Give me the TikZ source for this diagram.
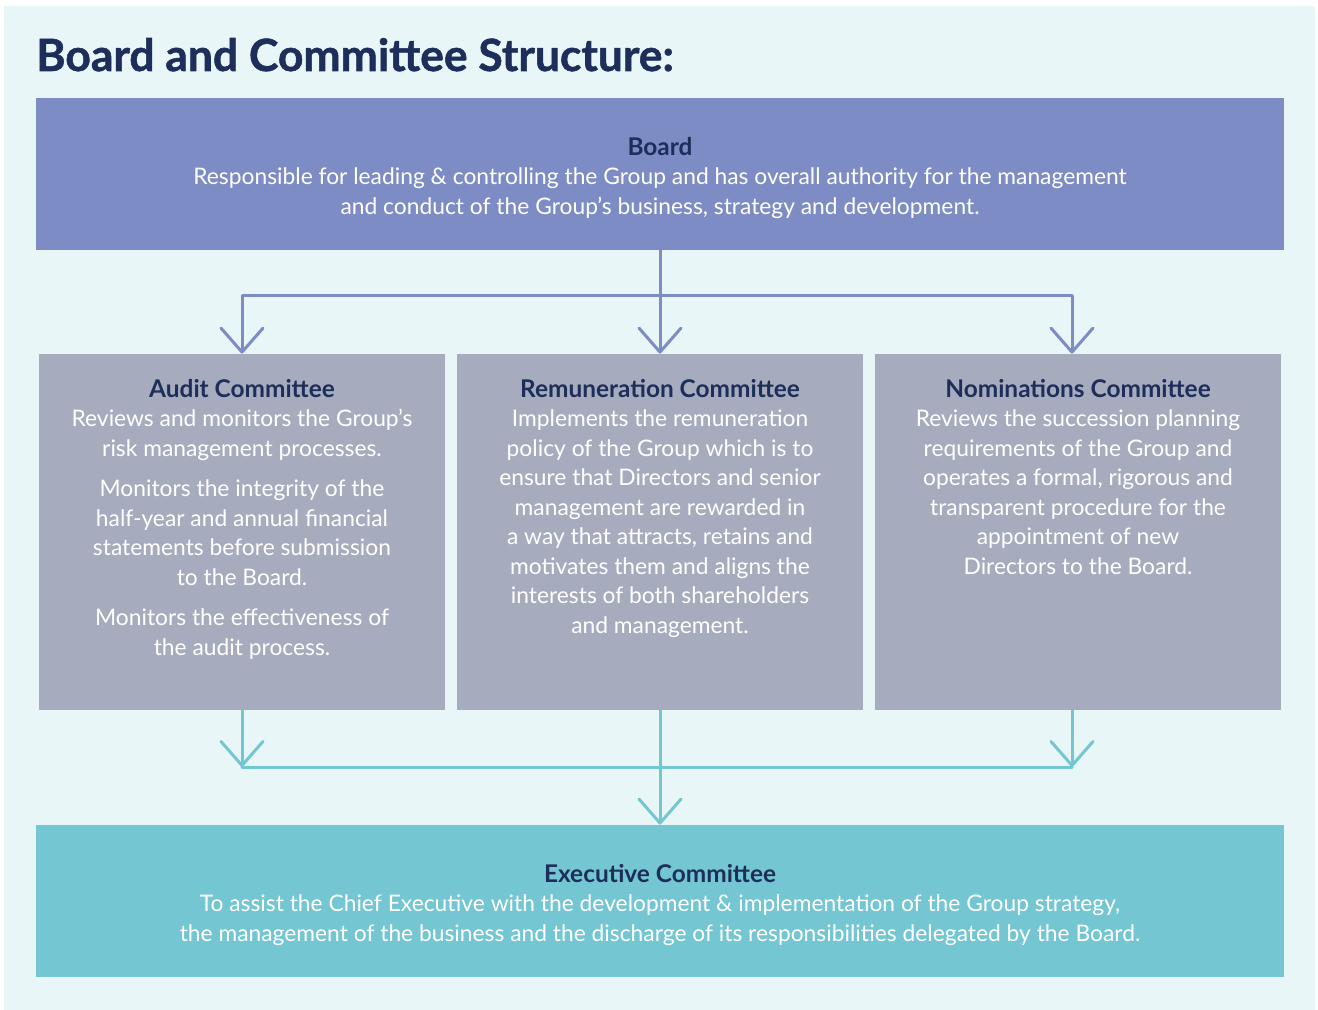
\documentclass[tikz,border=0pt]{standalone}
\usepackage{fontspec}
\setmainfont{Lato}
\newfontfamily\titlefont{Lato}[BoldFeatures={FakeBold=1.2}]
\usetikzlibrary{arrows.meta,positioning}

\definecolor{bgmint}{HTML}{E8F6F7}
\definecolor{boardblue}{HTML}{7D8CC4}
\definecolor{cmgrey}{HTML}{A6ACBE}
\definecolor{exteal}{HTML}{73C6D2}
\definecolor{navy}{HTML}{1E2E5A}

\newcommand{\bodyfont}{\fontsize{11.4}{14.75}\selectfont}
\newcommand{\boxhead}[1]{{\fontsize{12.2}{14.75}\selectfont\bfseries\color{navy}#1}}

\tikzset{
  wide/.style={inner sep=0pt, minimum width=624pt, minimum height=76pt},
  cmbox/.style={inner sep=0pt, fill=cmgrey, minimum width=203pt, minimum height=178pt},
  cmtext/.style={inner sep=0pt, text=white, align=center, font=\bodyfont},
  flow/.style={line width=1.5pt, line cap=round, line join=round},
  barb/.style={flow, -{Straight Barb[length=12pt,width=21pt,round]}}
}

\begin{document}
\begin{tikzpicture}[x=0.5pt,y=-0.5pt]
  \useasboundingbox (0,0) rectangle (1318,1010);
  \fill[bgmint] (4,6) rectangle (1315,1010);

  \node[anchor=base west, inner sep=0pt, text=navy,
        font=\titlefont\fontsize{22.2}{26}\selectfont\bfseries] (title) at (36,71)
        {Board and Committee Structure:};

  % boxes
  \node[wide, fill=boardblue] (board) at (660,174) {};
  \node[cmbox] (audit) at (242,532) {};
  \node[cmbox] (remun) at (660,532) {};
  \node[cmbox] (nomin) at (1078,532) {};
  \node[wide, fill=exteal] (exec) at (660,901) {};

  % box texts
  \node[cmtext] (boardtxt) at ([yshift=-2pt]board.center)
    {\boxhead{Board}\\
     Responsible for leading \& controlling the Group and has overall authority for the management\\
     and conduct of the Group’s business, strategy and development.};

  \node[cmtext] (exectxt) at ([yshift=-2pt]exec.center)
    {\boxhead{Executive Committee}\\
     To assist the Chief Executive with the development \& implementation of the Group strategy,\\
     the management of the business and the discharge of its responsibilities delegated by the Board.};

  \node[cmtext, below=12.5pt of audit.north] (audittxt)
    {\boxhead{Audit Committee}\\
     Reviews and monitors the Group’s\\
     risk management processes.\\[5.5pt]
     Monitors the integrity of the\\
     half-year and annual financial\\
     statements before submission\\
     to the Board.\\[5.5pt]
     Monitors the effectiveness of\\
     the audit process.};

  \node[cmtext, below=12.5pt of remun.north] (remuntxt)
    {\boxhead{Remuneration Committee}\\
     Implements the remuneration\\
     policy of the Group which is to\\
     ensure that Directors and senior\\
     management are rewarded in\\
     a way that attracts, retains and\\
     motivates them and aligns the\\
     interests of both shareholders\\
     and management.};

  \node[cmtext, below=12.5pt of nomin.north] (nomintxt)
    {\boxhead{Nominations Committee}\\
     Reviews the succession planning\\
     requirements of the Group and\\
     operates a formal, rigorous and\\
     transparent procedure for the\\
     appointment of new\\
     Directors to the Board.};

  % board to committees
  \coordinate (topbar) at (0,296);
  \coordinate (nomtop) at ([xshift=-3pt]nomin.north);
  \draw[barb, boardblue] (topbar -| nomtop) -- (topbar -| audit.north) -- (audit.north);
  \draw[barb, boardblue] (topbar -| nomtop) -- (nomtop);
  \draw[barb, boardblue] (board.south) -- (remun.north);

  % committees to executive
  \coordinate (botbar) at (0,767);
  \coordinate (nombot) at ([xshift=-3pt]nomin.south);
  \draw[flow, exteal] (audit.south |- botbar) -- (nombot |- botbar);
  \draw[barb, exteal] (audit.south) -- (audit.south |- botbar);
  \draw[barb, exteal] (nombot) -- (nombot |- botbar);
  \draw[barb, exteal] (remun.south) -- (exec.north);
\end{tikzpicture}
\end{document}
